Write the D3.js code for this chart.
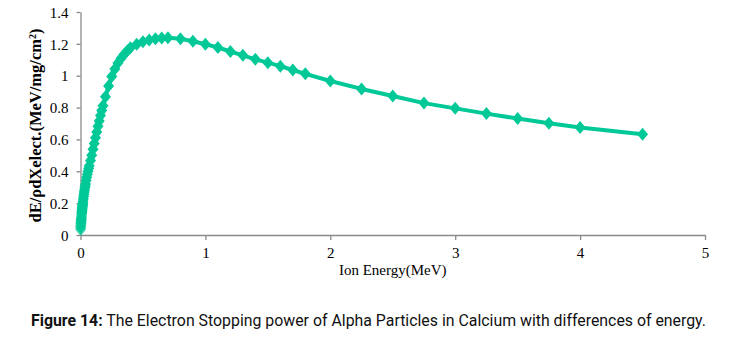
<!DOCTYPE html>
<html>
<head>
<meta charset="utf-8">
<script src="https://cdn.jsdelivr.net/npm/d3@7"></script>
<style>
  body { margin: 0; background: #fff; }
  svg { display: block; }
</style>
</head>
<body>
<div id="chart"></div>
<script>
// ion energy (MeV), SRIM-style energy steps
const energy = [
  0.001, 0.0015, 0.002, 0.0025, 0.003, 0.0035, 0.004, 0.0045, 0.005, 0.0055,
  0.006, 0.0065, 0.007, 0.008, 0.009, 0.010, 0.011, 0.012, 0.013, 0.014,
  0.015, 0.016, 0.017, 0.018, 0.020, 0.0225, 0.025, 0.0275, 0.030, 0.0325,
  0.035, 0.0375, 0.040, 0.045, 0.050, 0.055, 0.060, 0.065, 0.070, 0.080,
  0.090, 0.100, 0.110, 0.120, 0.130, 0.140, 0.150, 0.160, 0.170, 0.180,
  0.200, 0.225, 0.250, 0.275, 0.300, 0.325, 0.350, 0.375, 0.400, 0.450,
  0.500, 0.550, 0.600, 0.650, 0.700, 0.800, 0.900, 1.000, 1.100, 1.200,
  1.300, 1.400, 1.500, 1.600, 1.700, 1.800, 2.000, 2.250, 2.500, 2.750,
  3.000, 3.250, 3.500, 3.750, 4.000, 4.500
]
// electronic stopping dE/rho dX (MeV/mg/cm2)
const stopping = [
  0.035, 0.045, 0.053, 0.060, 0.067, 0.073, 0.078, 0.084, 0.089, 0.094,
  0.099, 0.103, 0.108, 0.118, 0.127, 0.136, 0.145, 0.153, 0.161, 0.169,
  0.177, 0.184, 0.191, 0.198, 0.211, 0.226, 0.241, 0.256, 0.270, 0.283,
  0.296, 0.308, 0.320, 0.342, 0.362, 0.382, 0.400, 0.418, 0.435, 0.468,
  0.500, 0.538, 0.575, 0.610, 0.646, 0.682, 0.716, 0.750, 0.782, 0.812,
  0.868, 0.935, 0.995, 1.042, 1.080, 1.110, 1.135, 1.157, 1.176, 1.198,
  1.213, 1.224, 1.232, 1.237, 1.239, 1.232, 1.216, 1.198, 1.177, 1.152,
  1.128, 1.103, 1.082, 1.060, 1.036, 1.012, 0.967, 0.917, 0.873, 0.828,
  0.795, 0.762, 0.731, 0.702, 0.675, 0.632
]
const xTicks = [0, 1, 2, 3, 4, 5]
const yTicks = [0, 0.2, 0.4, 0.6, 0.8, 1, 1.2, 1.4]

const width = 744, height = 337
const margin = { left: 80.5, right: 39, top: 12, bottom: 102 }
const green = '#00c997'
const axisGray = '#8a8a8a'

const svg = d3.select('#chart').append('svg')
  .attr('width', width)
  .attr('height', height)

const x = d3.scaleLinear().domain([0, 5]).range([margin.left, width - margin.right])
const y = d3.scaleLinear().domain([0, 1.4]).range([height - margin.bottom, margin.top])

// axes
const xAxis = svg.append('g')
  .attr('transform', 'translate(0,' + y(0) + ')')
  .call(d3.axisBottom(x).tickValues(xTicks).tickSize(5).tickSizeOuter(0).tickFormat(d3.format('d')))
const yAxis = svg.append('g')
  .attr('transform', 'translate(' + x(0) + ',0)')
  .call(d3.axisLeft(y).tickValues(yTicks).tickSize(4).tickSizeOuter(0).tickFormat(d => d3.format('~g')(d)))

;[xAxis, yAxis].forEach(ax => {
  ax.select('.domain').attr('stroke', axisGray).attr('stroke-width', 1.3)
  ax.selectAll('.tick line').attr('stroke', axisGray).attr('stroke-width', 1.3)
  ax.selectAll('.tick text')
    .attr('fill', '#000')
    .style('font-family', '"Liberation Serif", "DejaVu Serif", serif')
    .style('font-size', '15px')
})
xAxis.selectAll('.tick text').attr('y', 9).attr('dy', '0.95em')
yAxis.selectAll('.tick text').attr('x', -12).attr('dy', '0.35em')

// series line
const line = d3.line()
  .x((d, i) => x(energy[i]))
  .y(d => y(d))

svg.append('path')
  .datum(stopping)
  .attr('d', line)
  .attr('fill', 'none')
  .attr('stroke', green)
  .attr('stroke-width', 4)
  .attr('stroke-linejoin', 'round')

// diamond markers
svg.append('g')
  .selectAll('path')
  .data(stopping)
  .join('path')
  .attr('d', 'M0,-6.5L5.5,0L0,6.5L-5.5,0Z')
  .attr('transform', (d, i) => 'translate(' + x(energy[i]) + ',' + y(d) + ')')
  .attr('fill', green)
  .attr('opacity', (d, i) => energy[i] < 0.01 ? 0.7 : 1)

// axis titles
svg.append('text')
  .attr('x', (x(0) + x(5)) / 2)
  .attr('y', 275)
  .attr('text-anchor', 'middle')
  .style('font-family', '"Liberation Serif", "DejaVu Serif", serif')
  .style('font-size', '15px')
  .text('Ion Energy(MeV)')

const yTitle = svg.append('text')
  .attr('transform', 'translate(41,' + ((y(0) + y(1.4)) / 2 + 2) + ') rotate(-90)')
  .attr('text-anchor', 'middle')
  .style('font-family', '"Liberation Serif", "DejaVu Serif", serif')
  .style('font-size', '16.5px')
  .style('font-weight', 'bold')
yTitle.append('tspan').text('dE/ρdXelect.(MeV/mg/cm')
yTitle.append('tspan').attr('baseline-shift', 'super').style('font-size', '10px').text('2')
yTitle.append('tspan').text(')')

// figure caption
const caption = svg.append('text')
  .attr('x', 31)
  .attr('y', 326)
  .attr('textLength', 675)
  .attr('lengthAdjust', 'spacingAndGlyphs')
  .style('font-family', '"Liberation Sans Narrow", "Roboto", "Liberation Sans", sans-serif')
  .style('font-size', '16px')
  .attr('fill', '#111')
caption.append('tspan').style('font-weight', 'bold').text('Figure 14:')
caption.append('tspan').text(' The Electron Stopping power of Alpha Particles in Calcium with differences of energy.')
</script>
</body>
</html>
